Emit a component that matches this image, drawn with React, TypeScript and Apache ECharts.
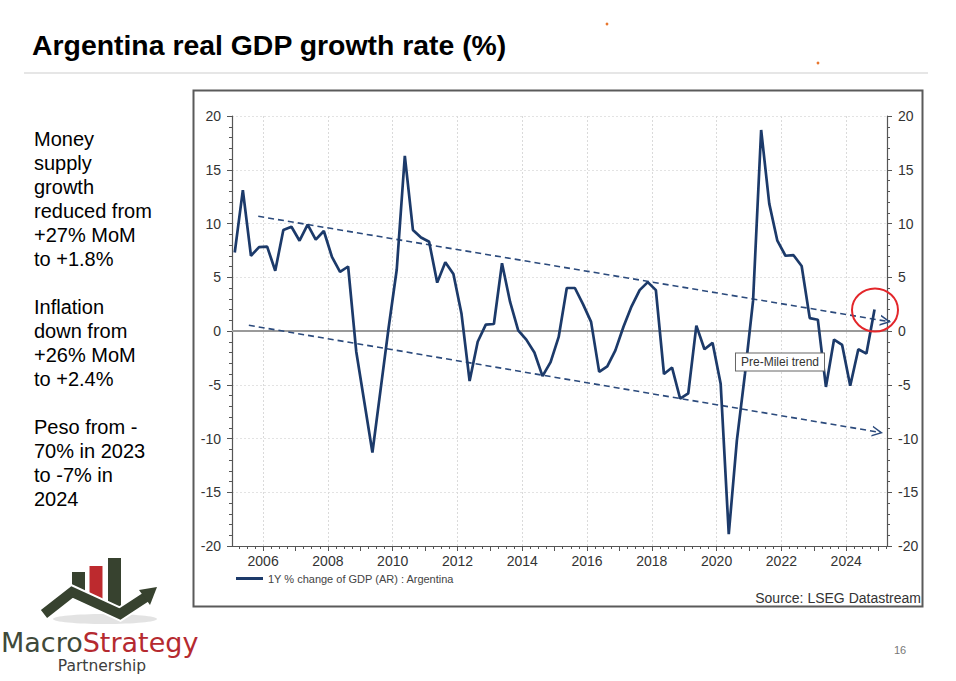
import React, { useEffect, useRef } from "react";
import * as echarts from "echarts";

// ---- Data ----
const FIRST_YEAR = 2005;
// Quarterly year-on-year % change of real GDP, 2005 Q1 .. 2024 Q4
const GDP_YOY = [
  7.3, 13.1, 7.0, 7.8, 7.85, 5.6, 9.4, 9.7, 8.4, 9.9,
  8.5, 9.3, 6.9, 5.5, 6.0, -1.9, -6.6, -11.3, -5.5, 0.3,
  5.7, 16.3, 9.4, 8.7, 8.3, 4.5, 6.4, 5.3, 1.6, -4.65,
  -1.0, 0.6, 0.65, 6.3, 2.7, 0.05, -0.8, -2.0, -4.2, -2.9,
  -0.55, 4.0, 4.0, 2.5, 0.85, -3.8, -3.3, -1.8, 0.4, 2.3,
  3.8, 4.55, 3.8, -4.0, -3.4, -6.3, -5.8, 0.5, -1.7, -1.1,
  -4.9, -18.9, -10.2, -4.0, 2.8, 18.7, 11.85, 8.4, 7.0, 7.05,
  6.05, 1.2, 1.05, -5.2, -0.8, -1.3, -5.1, -1.7, -2.1, 2.0,
];
const YEAR_LABELS = [2006, 2008, 2010, 2012, 2014, 2016, 2018, 2020, 2022, 2024];
const Y_MIN = -20;
const Y_MAX = 20;
const Y_STEP = 5;
const X_MIN = 2005.04;
const X_MAX = 2025.26;
// Pre-Milei trend channel: [start year, start value] -> [end year, end value]
const UPPER_TREND = [[2005.85, 10.67], [2025.22, 0.92]];
const LOWER_TREND = [[2005.56, 0.53], [2024.97, -9.4]];
const SERIES_NAME = "1Y % change of GDP (AR) : Argentina";

const FONT = '"Liberation Sans", Arial, Helvetica, sans-serif';

function quarterX(i: number) {
  const year = FIRST_YEAR + Math.floor(i / 4);
  const q = i % 4;
  return year + q * 0.25 + 0.125;
}

export default function App() {
  const ref = useRef<HTMLDivElement>(null);

  useEffect(() => {
    if (!ref.current) return;
    const chart = echarts.init(ref.current, null, { renderer: "svg" });

    const gdpData = GDP_YOY.map((v, i) => [quarterX(i), v]);
    const quarterTicks: number[] = [];
    for (let y = 2005; y <= 2025; y++) {
      for (let q = 0; q < 4; q++) {
        const t = y + q * 0.25;
        if (t >= X_MIN && t <= X_MAX) quarterTicks.push(t);
      }
    }
    const yearTicks: number[] = [];
    for (let y = 2006; y <= 2025; y++) yearTicks.push(y);

    const chevron = "path://M0,12 L6,0 L12,12 L10.2,12 L6,3.6 L1.8,12 Z";

    const option: any = {
      animation: false,
      backgroundColor: "#ffffff",
      grid: { left: 232, right: 69, top: 116, bottom: 135 },
      legend: {
        data: [SERIES_NAME],
        left: 236,
        top: 573,
        icon: "rect",
        itemWidth: 27,
        itemHeight: 3,
        padding: 0,
        textStyle: { fontFamily: FONT, fontSize: 11, color: "#444" },
      },
      xAxis: [
        {
          type: "value",
          min: X_MIN,
          max: X_MAX,
          position: "bottom",
          axisLine: { show: true, onZero: false, lineStyle: { color: "#555", width: 1.2 } },
          axisTick: { show: true, customValues: quarterTicks, length: 3, lineStyle: { color: "#555" } },
          axisLabel: {
            show: true,
            customValues: YEAR_LABELS,
            fontFamily: FONT,
            fontSize: 14,
            color: "#333",
            margin: 8,
            formatter: (v: number) => String(Math.round(v)),
          },
          splitLine: { show: false },
        },
        {
          type: "value",
          min: X_MIN,
          max: X_MAX,
          position: "bottom",
          axisLine: { show: false, onZero: false },
          axisTick: { show: true, customValues: yearTicks, length: 5, lineStyle: { color: "#555" } },
          axisLabel: { show: false },
          splitLine: { show: false },
        },
      ],
      yAxis: [
        {
          type: "value",
          min: Y_MIN,
          max: Y_MAX,
          interval: Y_STEP,
          position: "left",
          axisLine: { show: true, onZero: false, lineStyle: { color: "#555", width: 1.2 } },
          axisTick: { show: true, length: 5, lineStyle: { color: "#555" } },
          minorTick: { show: true, splitNumber: 5, length: 3, lineStyle: { color: "#555" } },
          axisLabel: { fontFamily: FONT, fontSize: 14, color: "#333", margin: 11 },
          splitLine: { show: true, lineStyle: { color: "#e3e3e3", type: [2, 2], width: 1 } },
        },
        {
          type: "value",
          min: Y_MIN,
          max: Y_MAX,
          interval: Y_STEP,
          position: "right",
          axisLine: { show: true, onZero: false, lineStyle: { color: "#555", width: 1.2 } },
          axisTick: { show: true, length: 5, lineStyle: { color: "#555" } },
          minorTick: { show: true, splitNumber: 5, length: 3, lineStyle: { color: "#555" } },
          axisLabel: { fontFamily: FONT, fontSize: 14, color: "#333", margin: 11 },
          splitLine: { show: false },
        },
      ],
      series: [
        {
          name: "grid-helper",
          type: "line",
          data: [],
          z: 1,
          silent: true,
          markLine: {
            silent: true,
            symbol: "none",
            label: { show: false },
            animation: false,
            data: [
              ...YEAR_LABELS.map((y) => ({
                xAxis: y,
                lineStyle: { color: "#dadada", type: [2, 2], width: 1 },
              })),
              { yAxis: 0, lineStyle: { color: "#9a9a9a", type: "solid", width: 1.8 } },
            ],
          },
        },
        {
          name: "trend",
          type: "line",
          data: [],
          z: 3,
          silent: true,
          markLine: {
            silent: true,
            symbol: ["none", chevron],
            symbolSize: 11,
            symbolKeepAspect: true,
            label: { show: false },
            animation: false,
            itemStyle: { color: "#2b4a7c" },
            lineStyle: { color: "#2b4a7c", type: [6, 4], width: 1.6 },
            data: [
              [{ coord: UPPER_TREND[0] }, { coord: UPPER_TREND[1] }],
              [{ coord: LOWER_TREND[0] }, { coord: LOWER_TREND[1] }],
            ],
          },
        },
        {
          name: SERIES_NAME,
          type: "line",
          data: gdpData,
          showSymbol: false,
          symbol: "none",
          z: 5,
          color: "#1c3a6a",
          lineStyle: { color: "#1c3a6a", width: 2.7 },
        },
      ],
      graphic: [
        // chart frame
        {
          type: "rect",
          shape: { x: 193.5, y: 90.5, width: 729, height: 516 },
          style: { fill: "none", stroke: "#5a5a5a", lineWidth: 2 },
          silent: true,
        },
        // title
        {
          type: "text",
          x: 32,
          y: 45,
          style: {
            text: "Argentina real GDP growth rate (%)",
            font: `bold 28.4px ${FONT}`,
            fill: "#000",
            align: "left",
            verticalAlign: "middle",
          },
        },
        // separator
        {
          type: "line",
          shape: { x1: 24, y1: 73, x2: 928, y2: 73 },
          style: { stroke: "#e6e6e6", lineWidth: 2 },
        },
        // orange specks
        { type: "circle", shape: { cx: 607, cy: 24, r: 1.4 }, style: { fill: "#e8772e" } },
        { type: "circle", shape: { cx: 818, cy: 63, r: 1.4 }, style: { fill: "#e8772e" } },
        // left commentary
        {
          type: "text",
          x: 34,
          y: 126.5,
          style: {
            text:
              "Money\nsupply\ngrowth\nreduced from\n+27% MoM\nto +1.8%\n\nInflation\ndown from\n+26% MoM\nto +2.4%\n\nPeso from -\n70% in 2023\nto -7% in\n2024",
            font: `20px ${FONT}`,
            lineHeight: 24,
            fill: "#000",
            align: "left",
            verticalAlign: "top",
          },
        },
        // source
        {
          type: "text",
          x: 921,
          y: 598,
          style: {
            text: "Source: LSEG Datastream",
            font: `14px ${FONT}`,
            fill: "#333",
            align: "right",
            verticalAlign: "middle",
          },
        },
        // Pre-Milei trend label
        {
          type: "text",
          x: 780,
          y: 362,
          z: 10,
          style: {
            text: "Pre-Milei trend",
            font: `12px ${FONT}`,
            fill: "#333",
            align: "center",
            verticalAlign: "middle",
            backgroundColor: "#fff",
            borderColor: "#666",
            borderWidth: 1,
            padding: [3, 5, 2, 5],
          },
        },
        // red circle
        {
          type: "ellipse",
          z: 10,
          shape: { cx: 875, cy: 310, rx: 23, ry: 21.5 },
          style: { fill: "none", stroke: "#e3262a", lineWidth: 2 },
        },
        // page number
        {
          type: "text",
          x: 900,
          y: 650,
          style: { text: "16", font: `11px ${FONT}`, fill: "#777", align: "center", verticalAlign: "middle" },
        },
        // ---- logo ----
        { type: "ellipse", shape: { cx: 105, cy: 619, rx: 52, ry: 5 }, style: { fill: "#e3e3e3" } },
        { type: "rect", shape: { x: 72, y: 572, width: 13, height: 22 }, style: { fill: "#37422f" } },
        { type: "rect", shape: { x: 89.5, y: 566, width: 13, height: 34 }, style: { fill: "#bd2a2e" } },
        { type: "rect", shape: { x: 108, y: 558, width: 13, height: 50 }, style: { fill: "#37422f" } },
        {
          type: "polyline",
          shape: { points: [[44, 614], [72, 592], [120, 614], [146, 597]] },
          style: { stroke: "#ffffff", lineWidth: 14, fill: "none", lineJoin: "miter" },
        },
        {
          type: "polyline",
          shape: { points: [[44, 614], [72, 592], [120, 614], [146, 597]] },
          style: { stroke: "#37422f", lineWidth: 10, fill: "none", lineJoin: "miter" },
        },
        {
          type: "polygon",
          shape: { points: [[157, 587], [139, 590], [150, 605]] },
          style: { fill: "#37422f" },
        },
        {
          type: "text",
          x: 1,
          y: 642,
          style: {
            text: "{a|Macro}{b|Strategy}",
            align: "left",
            verticalAlign: "middle",
            rich: {
              a: { font: `27px "DejaVu Sans", sans-serif`, fill: "#404a3a" },
              b: { font: `27px "DejaVu Sans", sans-serif`, fill: "#b52a30" },
            },
          },
        },
        {
          type: "text",
          x: 102,
          y: 666,
          style: { text: "Partnership", font: `15.5px "DejaVu Sans", sans-serif`, fill: "#3d3d3d", align: "center", verticalAlign: "middle" },
        },
      ],
    };

    chart.setOption(option);
    return () => chart.dispose();
  }, []);

  return (
    <div
      ref={ref}
      style={{ position: "fixed", left: 0, top: 0, width: 956, height: 681, background: "#fff" }}
    />
  );
}
